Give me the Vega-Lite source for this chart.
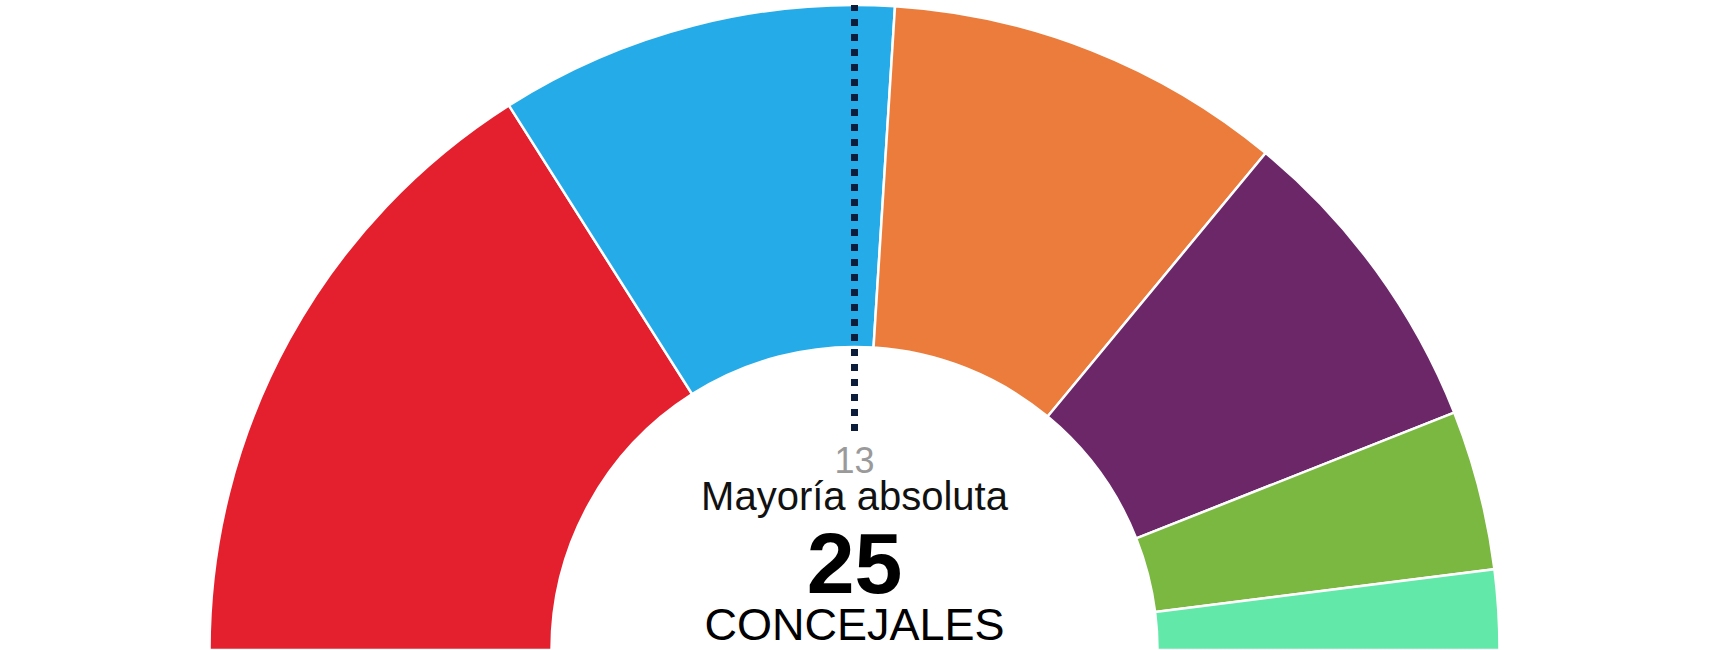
{
  "$schema": "https://vega.github.io/schema/vega-lite/v6.json",
  "width": 1709,
  "height": 650,
  "autosize": "none",
  "padding": 0,
  "background": "white",
  "config": {"view": {"stroke": null}},
  "layer": [
    {
      "data": {"values": [
        {"party": "PSOE", "seats": 8, "order": 1},
        {"party": "PP", "seats": 5, "order": 2},
        {"party": "Cs", "seats": 5, "order": 3},
        {"party": "Podemos-IU", "seats": 4, "order": 4},
        {"party": "Vox", "seats": 2, "order": 5},
        {"party": "Más Madrid", "seats": 1, "order": 6}
      ]},
      "mark": {"type": "arc", "outerRadius": 645, "innerRadius": 303, "stroke": "white", "strokeWidth": 2.5},
      "encoding": {
        "x": {"datum": 0, "type": "quantitative", "scale": {"domain": [-1, 1]}, "axis": null},
        "y": {"datum": 0, "type": "quantitative", "scale": {"domain": [0, 1]}, "axis": null},
        "theta": {"field": "seats", "type": "quantitative", "stack": true, "scale": {"range": [-1.5708, 1.5708]}},
        "order": {"field": "order", "type": "quantitative"},
        "color": {
          "field": "party", "type": "nominal", "legend": null,
          "scale": {
            "domain": ["PSOE", "PP", "Cs", "Podemos-IU", "Vox", "Más Madrid"],
            "range": ["#E5202E", "#25ACE8", "#EB7C3B", "#6C2769", "#7BB841", "#62E9A9"]
          }
        }
      }
    },
    {
      "data": {"values": [{"label": "13"}]},
      "mark": {"type": "rule", "color": "#0B1D3A", "strokeWidth": 7, "strokeDash": [7, 8]},
      "encoding": {
        "x": {"datum": 0, "type": "quantitative"},
        "y": {"datum": 0.3369, "type": "quantitative"},
        "y2": {"datum": 0.9923}
      }
    },
    {
      "data": {"values": [{"label": "13"}]},
      "mark": {"type": "text", "font": "Liberation Sans", "fontSize": 36, "color": "#9A9A9A", "align": "center", "baseline": "alphabetic"},
      "encoding": {
        "x": {"datum": 0, "type": "quantitative"},
        "y": {"datum": 0.2723, "type": "quantitative"},
        "text": {"field": "label"}
      }
    },
    {
      "data": {"values": [{"label": "Mayoría absoluta"}]},
      "mark": {"type": "text", "font": "Liberation Sans", "fontSize": 40, "color": "#111111", "align": "center", "baseline": "alphabetic"},
      "encoding": {
        "x": {"datum": 0, "type": "quantitative"},
        "y": {"datum": 0.2154, "type": "quantitative"},
        "text": {"field": "label"}
      }
    },
    {
      "data": {"values": [{"label": "25"}]},
      "mark": {"type": "text", "font": "Liberation Sans", "fontSize": 86, "fontWeight": "bold", "color": "#000000", "align": "center", "baseline": "alphabetic"},
      "encoding": {
        "x": {"datum": 0, "type": "quantitative"},
        "y": {"datum": 0.0877, "type": "quantitative"},
        "text": {"field": "label"}
      }
    },
    {
      "data": {"values": [{"label": "CONCEJALES"}]},
      "mark": {"type": "text", "font": "Liberation Sans", "fontSize": 45, "color": "#000000", "align": "center", "baseline": "alphabetic"},
      "encoding": {
        "x": {"datum": 0, "type": "quantitative"},
        "y": {"datum": 0.0154, "type": "quantitative"},
        "text": {"field": "label"}
      }
    }
  ]
}
